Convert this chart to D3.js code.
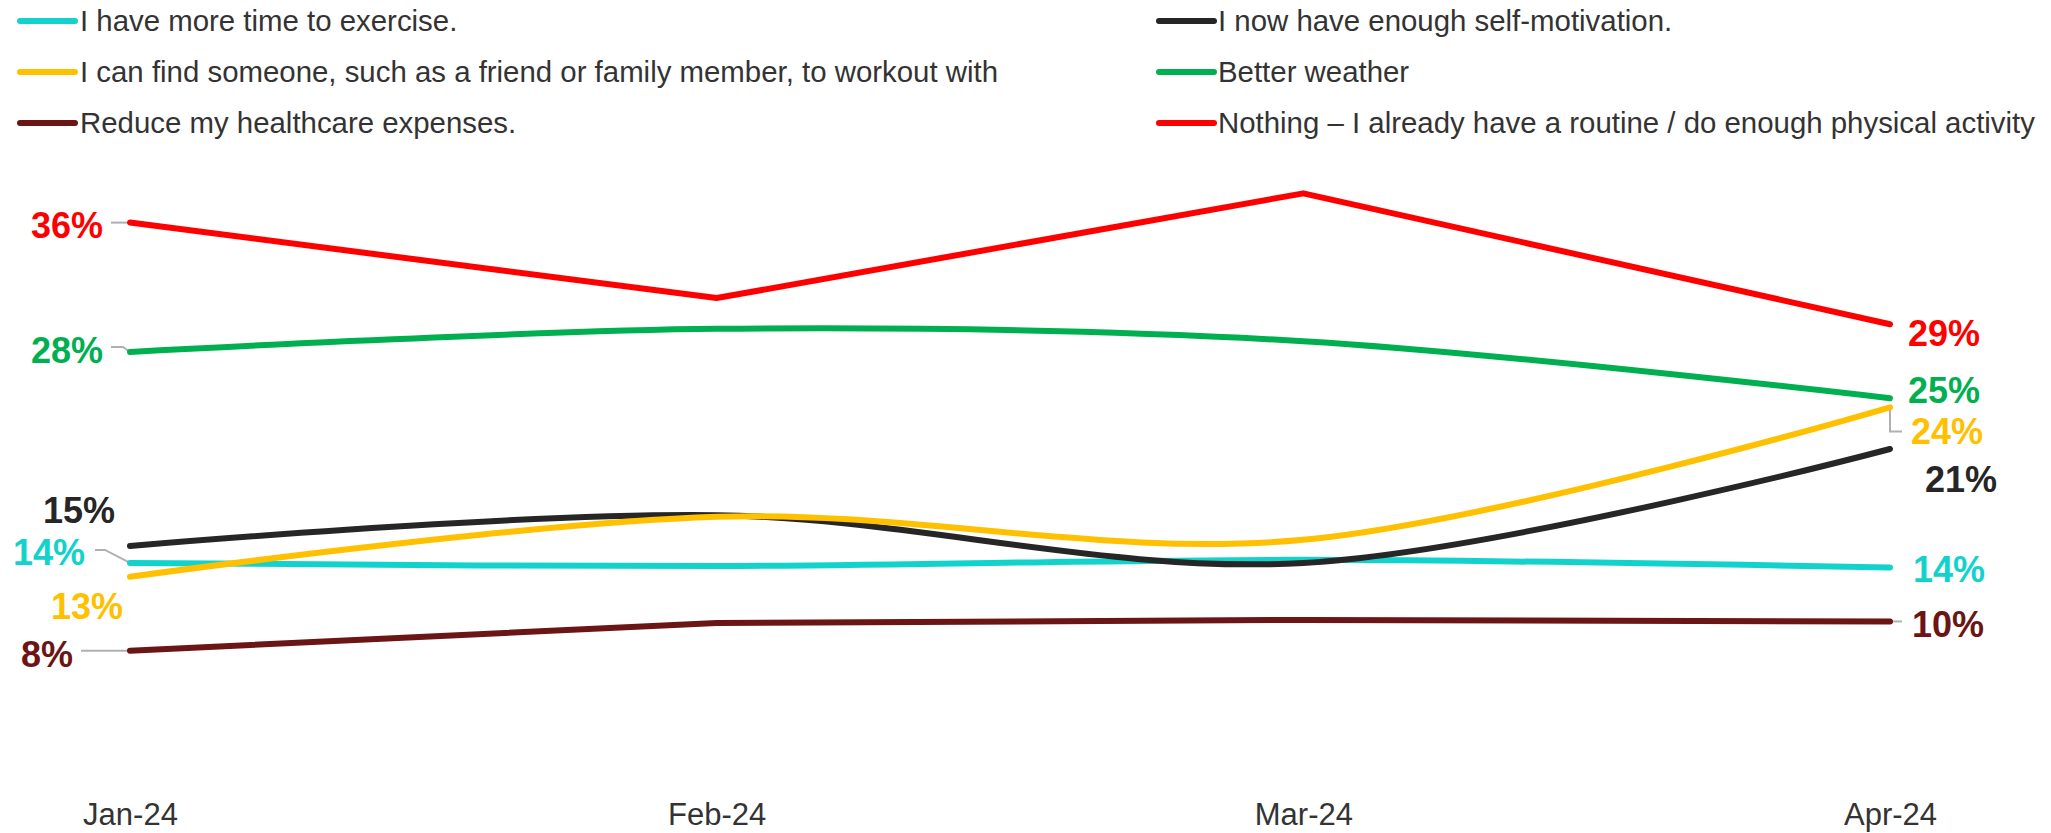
<!DOCTYPE html>
<html>
<head>
<meta charset="utf-8">
<script src="https://cdn.jsdelivr.net/npm/d3@7"></script>
<style>
  html, body { margin: 0; padding: 0; background: #fff; }
  svg { display: block; font-family: "Liberation Sans", Arial, sans-serif; }
</style>
</head>
<body>
<svg id="chart" width="2051" height="833"></svg>
<script>
// Survey months (x axis tick labels)
const months = ["Jan-24", "Feb-24", "Mar-24", "Apr-24"];

// Series names (legend order: left column then right column)
const seriesNames = [
  "I have more time to exercise.",
  "I can find someone, such as a friend or family member, to workout with",
  "Reduce my healthcare expenses.",
  "I now have enough self-motivation.",
  "Better weather",
  "Nothing \u2013 I already have a routine / do enough physical activity"
];

// Share of respondents (%) per month
const moreTime       = [13.9, 13.7, 14.1, 13.6];
const workoutPartner = [13.0, 16.9, 15.4, 24.0];
const healthcare     = [8.2, 10.0, 10.2, 10.1];
const selfMotivation = [15.0, 17.0, 13.9, 21.3];
const betterWeather  = [27.6, 29.1, 28.3, 24.6];
const nothing        = [36.0, 31.1, 37.9, 29.4];

const seriesValues = [moreTime, workoutPartner, healthcare, selfMotivation, betterWeather, nothing];

// Styling per series
const colors = ["#12D3CB", "#FFC000", "#6B1515", "#262626", "#00B050", "#FF0000"];
const smooth = [true, true, false, true, true, false];

// End-label placement: [dx, dy] from the first / last point, and text anchor
const startLabel = [
  { dx: -45, dy: 2,   anchor: "end" },
  { dx: -7,  dy: 42,  anchor: "end" },
  { dx: -57, dy: 16,  anchor: "end" },
  { dx: -15, dy: -23, anchor: "end" },
  { dx: -27, dy: 11,  anchor: "end" },
  { dx: -27, dy: 15,  anchor: "end" }
];
const endLabel = [
  { dx: 23, dy: 14, anchor: "start" },
  { dx: 21, dy: 37, anchor: "start" },
  { dx: 22, dy: 16, anchor: "start" },
  { dx: 35, dy: 43, anchor: "start" },
  { dx: 18, dy: 5,  anchor: "start" },
  { dx: 18, dy: 22, anchor: "start" }
];
// Leader lines as offset polylines from the point (null = none)
const startLeader = [
  [[0, 0], [-25, -13], [-35, -13]],
  null,
  [[0, 0], [-49, 0]],
  null,
  [[0, 0], [-7, -5], [-19, -5]],
  [[0, 0], [-19, 0]]
];
const endLeader = [
  null,
  [[0, 0], [0, 24], [12, 24]],
  [[0, 0], [12, 0]],
  null,
  null,
  null
];

const svg = d3.select("#chart");

const x = d3.scalePoint().domain(months).range([130, 1890]);
const y = d3.scaleLinear().domain([0, 40]).range([777, 161]);

// Legend
const legendCols = [{ lineX: 20, textX: 80 }, { lineX: 1159, textX: 1218 }];
const legendRows = [21, 72, 123];
const legend = svg.append("g").attr("class", "legend");
seriesNames.forEach((name, i) => {
  const col = legendCols[Math.floor(i / 3)];
  const ry = legendRows[i % 3];
  legend.append("line")
    .attr("x1", col.lineX).attr("x2", col.lineX + 55)
    .attr("y1", ry).attr("y2", ry)
    .attr("stroke", colors[i]).attr("stroke-width", 6)
    .attr("stroke-linecap", "round");
  legend.append("text")
    .attr("x", col.textX).attr("y", ry)
    .attr("dy", "0.35em")
    .attr("font-size", 29.4)
    .attr("fill", "#333")
    .text(name);
});

// X axis (labels only)
const xAxis = d3.axisBottom(x).tickSize(0).tickPadding(0);
const axisG = svg.append("g").attr("transform", "translate(0,825)").call(xAxis);
axisG.select(".domain").remove();
axisG.selectAll("text")
  .attr("font-size", 31)
  .attr("font-family", "Liberation Sans, Arial, sans-serif")
  .attr("fill", "#333")
  .attr("y", 0)
  .attr("dy", 0);

// Leader lines
const leaderG = svg.append("g").attr("class", "leaders");
function drawLeader(points, px, py) {
  leaderG.append("polyline")
    .attr("points", points.map(p => [px + p[0], py + p[1]].join(",")).join(" "))
    .attr("fill", "none")
    .attr("stroke", "#B0B0B0")
    .attr("stroke-width", 2);
}

// Series lines
const drawOrder = [5, 4, 2, 0, 3, 1];
const linesG = svg.append("g").attr("class", "lines");
drawOrder.forEach(i => {
  const line = d3.line()
    .x((d, j) => x(months[j]))
    .y(d => y(d))
    .curve(smooth[i] ? d3.curveCardinal.tension(0) : d3.curveLinear);
  linesG.append("path")
    .datum(seriesValues[i])
    .attr("d", line)
    .attr("fill", "none")
    .attr("stroke", colors[i])
    .attr("stroke-width", 6)
    .attr("stroke-linecap", "round")
    .attr("stroke-linejoin", "round");
});

// End labels
const fmt = v => Math.round(v) + "%";
const labelsG = svg.append("g").attr("class", "labels");
seriesValues.forEach((vals, i) => {
  const x0 = x(months[0]), y0 = y(vals[0]);
  const x1 = x(months[months.length - 1]), y1 = y(vals[vals.length - 1]);
  if (startLeader[i]) drawLeader(startLeader[i], x0, y0);
  if (endLeader[i]) drawLeader(endLeader[i], x1, y1);
  labelsG.append("text")
    .attr("x", x0 + startLabel[i].dx).attr("y", y0 + startLabel[i].dy)
    .attr("text-anchor", startLabel[i].anchor)
    .attr("font-size", 36).attr("font-weight", "bold")
    .attr("fill", colors[i])
    .text(fmt(vals[0]));
  labelsG.append("text")
    .attr("x", x1 + endLabel[i].dx).attr("y", y1 + endLabel[i].dy)
    .attr("text-anchor", endLabel[i].anchor)
    .attr("font-size", 36).attr("font-weight", "bold")
    .attr("fill", colors[i])
    .text(fmt(vals[vals.length - 1]));
});
// Leaders sit beneath the lines
leaderG.lower();
</script>
</body>
</html>
